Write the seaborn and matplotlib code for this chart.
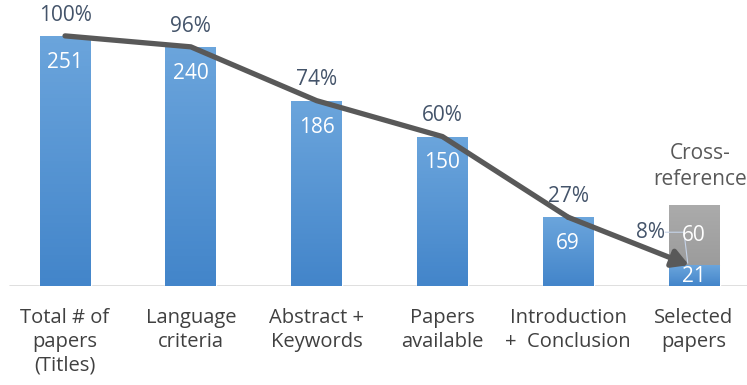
import matplotlib
matplotlib.use("Agg")
import matplotlib.pyplot as plt
import seaborn as sns
import pandas as pd
import numpy as np
from matplotlib.colors import LinearSegmentedColormap

stages = ["Total # of\npapers\n(Titles)", "Language\ncriteria", "Abstract +\nKeywords",
          "Papers\navailable", "Introduction\n+  Conclusion", "Selected\npapers"]
papers = [251, 240, 186, 150, 69, 21]
pct_labels = ["100%", "96%", "74%", "60%", "27%", "8%"]
cross_reference = [0, 0, 0, 0, 0, 60]
cross_label = "Cross-\nreference"

sns.set_theme(style="white")
plt.rcParams["font.family"] = ["Open Sans", "DejaVu Sans"]

fig = plt.figure(figsize=(7.47, 3.85), dpi=100)
ax = fig.add_axes([0, 0.257, 1, 0.743])

df = pd.DataFrame({"stage": stages, "papers": papers, "cross": cross_reference})
xs = np.arange(len(stages))

sns.barplot(data=df, x="stage", y="papers", color="#5B9BD5", saturation=1,
            width=0.405, ax=ax, zorder=2)
blue_patches = list(ax.patches)
gray = ax.bar(xs, df["cross"], bottom=df["papers"], width=0.405, color="#A5A5A5", zorder=2)

ax.set_xlim(-0.517, 5.421)
ax.set_ylim(0, 287)

# gradient fill inside bars
blue_cmap = LinearSegmentedColormap.from_list("b", ["#4385CA", "#6BA5DC"])
gray_cmap = LinearSegmentedColormap.from_list("g", ["#9C9C9C", "#ABABAB"])
grad = np.linspace(0, 1, 64).reshape(-1, 1)
for patches, cmap in ((blue_patches, blue_cmap), (list(gray), gray_cmap)):
    for p in patches:
        h = p.get_height()
        if h <= 0:
            continue
        x0, y0, w = p.get_x(), p.get_y(), p.get_width()
        im = ax.imshow(grad, cmap=cmap, origin="lower", aspect="auto",
                       extent=(x0, x0 + w, y0, y0 + h), zorder=2.1)
        im.set_clip_path(p)
ax.set_xlim(-0.517, 5.421)
ax.set_ylim(0, 287)

ax.set_xlabel("")
ax.set_ylabel("")
ax.set_yticks([])
for s in ax.spines.values():
    s.set_visible(False)
ax.axhline(0, xmin=10 / 747, xmax=1, color="#D9D9D9", lw=1.2, zorder=1)
ax.tick_params(axis="x", length=0, pad=16)
ax.set_xticks(xs)
ax.set_xticklabels(stages, fontsize=14.5, color="#404040", linespacing=1.25, va="top")

# line with arrow
ax.plot(xs[:-1], papers[:-1], color="#595959", lw=3.8, solid_capstyle="round",
        solid_joinstyle="round", zorder=3)
ax.annotate("", xy=(xs[-1] - 0.04, papers[-1]), xytext=(xs[-2], papers[-2]),
            arrowprops=dict(arrowstyle="-|>,head_length=0.8,head_width=0.45",
                            color="#595959", lw=3.8, shrinkA=0, shrinkB=0), zorder=3)

# labels
txt_col = "#44546A"
for i in range(len(stages) - 1):
    ax.annotate(pct_labels[i], (xs[i], papers[i]), xytext=(0, 15), textcoords="offset points",
                ha="center", va="center", fontsize=15, color=txt_col, zorder=4)
    ax.annotate(str(papers[i]), (xs[i], papers[i]), xytext=(0, -19), textcoords="offset points",
                ha="center", va="center", fontsize=15, color="white", zorder=4)

last = len(stages) - 1
ax.text(xs[last], papers[last] / 2 - 1, str(papers[last]), ha="center", va="center",
        fontsize=15, color="white", zorder=4)
ax.text(xs[last], papers[last] + cross_reference[last] / 2, str(cross_reference[last]),
        ha="center", va="center", fontsize=15, color="white", zorder=4)
ax.text(xs[last] - 0.35, 54, pct_labels[last], ha="center", va="center",
        fontsize=15, color=txt_col, zorder=4)
ax.plot([xs[last] - 0.23, xs[last] - 0.08, xs[last] - 0.05], [54, 54, papers[last] + 2],
        color="#C5D3E8", lw=0.8, zorder=2.5)
ax.text(xs[last] + 0.05, 120, cross_label, ha="center", va="center",
        fontsize=15, color="#595959", linespacing=1.3, zorder=4)

fig.savefig("out.png", dpi=100)
